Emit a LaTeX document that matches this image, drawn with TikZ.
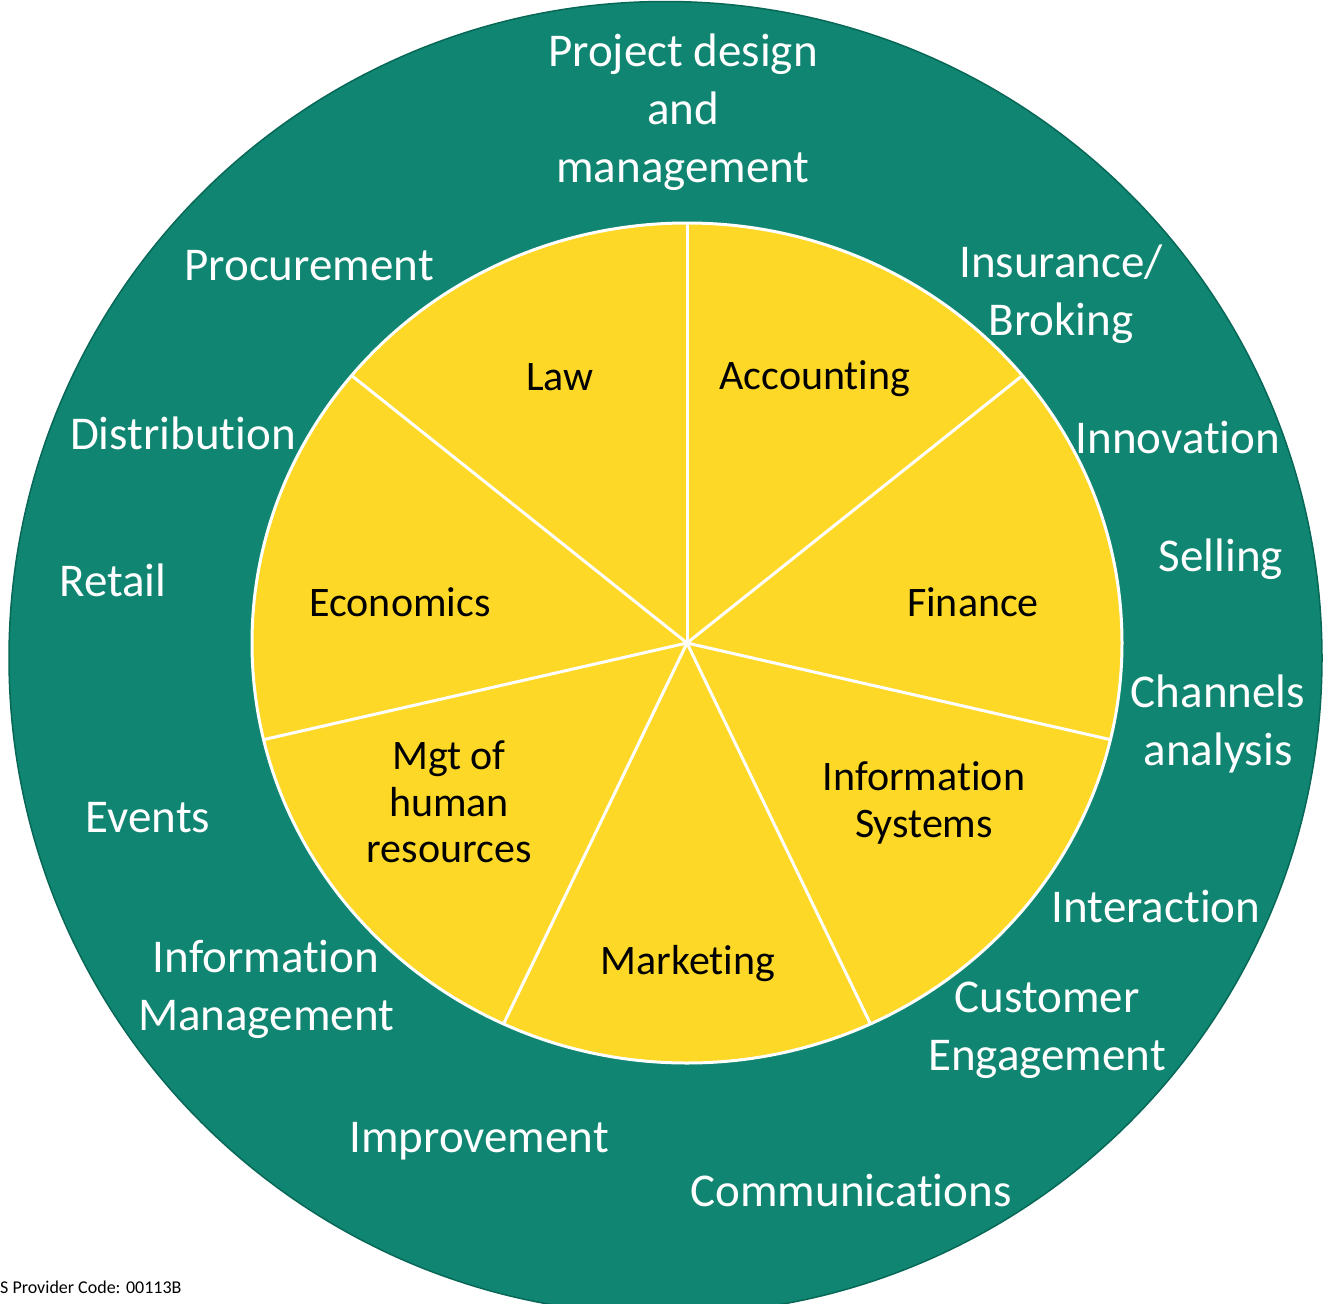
\documentclass[tikz,border=0pt]{standalone}
\usepackage{fontspec}
\setmainfont{Carlito}[Ligatures={NoCommon}]
\definecolor{tealfill}{RGB}{16,134,114}
\definecolor{tealedge}{RGB}{8,104,88}
\definecolor{yelfill}{RGB}{254,216,38}
\begin{document}
\begin{tikzpicture}[x=1pt,y=-1pt,
  outerlbl/.style={text=white,font=\fontsize{47}{58}\selectfont,align=center,inner sep=0pt},
  innerlbl/.style={text=black,font=\fontsize{42}{46.5}\selectfont,align=center,inner sep=0pt},
  divider/.style={white,line width=3pt},
  footer/.style={text=black,font=\fontsize{18}{21}\selectfont,inner sep=0pt}]
\useasboundingbox (0,0) rectangle (1326,1304);
\begin{scope}
  \clip (0,0) rectangle (1326,1304);
  \fill[tealfill,draw=tealedge,line width=1.5pt] (665.5,658) circle[radius=656.5pt];
\end{scope}
\coordinate (c) at (687,643);
\fill[yelfill] (c) ellipse[x radius=435pt,y radius=420pt];
\begin{scope}
  \clip (c) ellipse[x radius=435pt,y radius=420pt];
  \foreach \k in {0,...,6} \draw[divider] (c) -- ++({90-\k*360/7}:520pt);
\end{scope}
\draw[white,line width=3pt] (c) ellipse[x radius=435pt,y radius=420pt];

% outer ring labels
\node[outerlbl] (pdm) at (683,112) {Project design\\and\\management};
\node[outerlbl] (proc) at (309,266) {Procurement};
\node[outerlbl] (ins) at (1061,294) {Insurance/\\Broking};
\node[outerlbl] (dist) at (183,433) {Distribution};
\node[outerlbl] (innov) at (1178,437) {Innovation};
\node[outerlbl] (retail) at (113,580) {Retail};
\node[outerlbl] (sell) at (1221,559) {Selling};
\node[outerlbl] (chan) at (1218,724) {Channels\\analysis};
\node[outerlbl] (events) at (148,818) {Events};
\node[outerlbl] (inter) at (1156,906) {Interaction};
\node[outerlbl] (infm) at (266,989) {Information\\Management};
\node[outerlbl] (cust) at (1047,1030) {Customer\\Engagement};
\node[outerlbl] (impr) at (479,1141) {Improvement};
\node[outerlbl] (comm) at (851,1190) {Communications};

% inner pie labels
\node[innerlbl] (law) at (560,377) {Law};
\node[innerlbl] (acc) at (815,379) {Accounting};
\node[innerlbl] (econ) at (400,602) {Economics};
\node[innerlbl] (fin) at (973,602) {Finance};
\node[innerlbl] (mgt) at (449,802) {Mgt of\\human\\resources};
\node[innerlbl] (infs) at (924,803) {Information\\Systems};
\node[innerlbl] (mkt) at (688,964) {Marketing};

\node[footer,anchor=base west] (code) at (0,1293) {S Provider Code: 00113B};
\end{tikzpicture}
\end{document}
